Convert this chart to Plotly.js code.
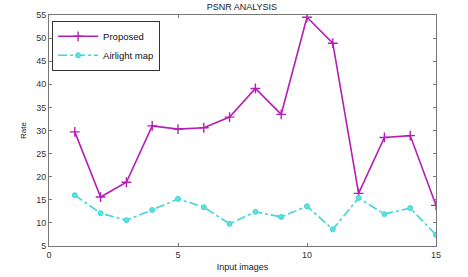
<!DOCTYPE html>
<html><head><meta charset="utf-8">
<script src="https://cdn.plot.ly/plotly-3.0.1.min.js"></script>
<style>html,body{margin:0;padding:0;background:#fff}#chart{width:468px;height:277px}</style>
</head><body><div id="chart"></div>
<script>
var images = [1,2,3,4,5,6,7,8,9,10,11,12,13,14,15];
var proposed = [29.7,15.6,18.8,31.0,30.3,30.6,32.9,39.1,33.5,54.5,48.9,16.4,28.5,28.9,13.8];
var airlight = [16.0,12.1,10.6,12.8,15.2,13.4,9.8,12.4,11.3,13.6,8.6,15.4,11.9,13.2,7.4];
var xTicks = [0,5,10,15];
var yTicks = [5,10,15,20,25,30,35,40,45,50,55];

var data = [
  {x: images, y: proposed, name: 'Proposed', type: 'scatter', mode: 'lines+markers',
   line: {color: '#b41eb4', width: 1.6},
   marker: {symbol: 'cross-thin', size: 7, line: {color: '#b41eb4', width: 1.4}}},
  {x: images, y: airlight, name: 'Airlight map', type: 'scatter', mode: 'lines+markers',
   line: {color: '#3fd6d6', width: 1.6, dash: 'dashdot'},
   marker: {symbol: 'circle', size: 5, color: '#5fe0e0', line: {color: '#3fd6d6', width: 1}}}
];
var axisCommon = {showgrid: false, zeroline: false, showline: true, mirror: 'ticks',
  linecolor: '#777', linewidth: 1, ticks: 'inside', ticklen: 3, tickcolor: '#777',
  tickfont: {family: 'Liberation Sans, Arial, sans-serif', size: 9, color: '#333'}};
var layout = {
  width: 468, height: 277,
  margin: {l: 49, r: 32, t: 15, b: 31},
  paper_bgcolor: '#fff', plot_bgcolor: '#fff',
  title: {text: 'PSNR ANALYSIS', x: 0.517, xanchor: 'center', y: 0.985, yanchor: 'top',
    font: {family: 'Liberation Sans, Arial, sans-serif', size: 9, color: '#222'}},
  xaxis: Object.assign({}, axisCommon, {range: [0, 15], tickvals: xTicks,
    title: {text: 'Input images', standoff: 4, font: {family: 'Liberation Sans, Arial, sans-serif', size: 9, color: '#222'}}}),
  yaxis: Object.assign({}, axisCommon, {range: [5, 55], tickvals: yTicks,
    title: {text: 'Rate', standoff: 8, font: {family: 'Liberation Sans, Arial, sans-serif', size: 8, color: '#222'}}}),
  showlegend: true,
  legend: {x: 0.008, y: 0.975, xanchor: 'left', yanchor: 'top', bgcolor: '#fff',
    bordercolor: '#333', borderwidth: 1, tracegroupgap: 0, itemwidth: 40,
    font: {family: 'Liberation Sans, Arial, sans-serif', size: 9.5, color: '#111'}}
};
Plotly.newPlot('chart', data, layout, {displayModeBar: false, staticPlot: true});
</script></body></html>
